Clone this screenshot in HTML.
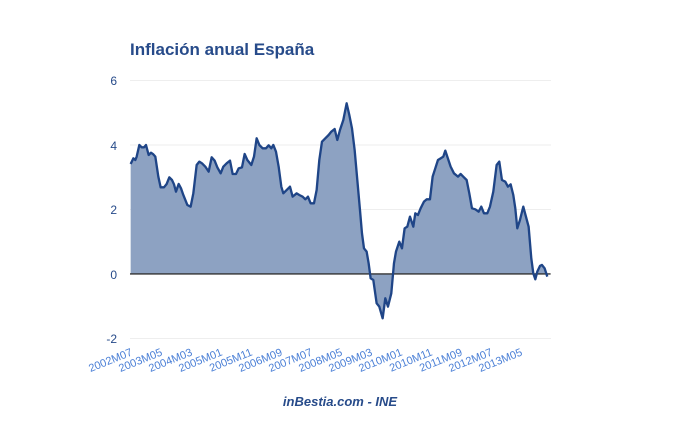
<!DOCTYPE html>
<html><head><meta charset="utf-8"><style>
body{margin:0;background:#fff;width:680px;height:420px;overflow:hidden;font-family:"Liberation Sans",sans-serif}
</style></head><body>
<svg width="680" height="420" xmlns="http://www.w3.org/2000/svg">
<text x="130" y="55" font-size="17" font-weight="bold" fill="#274b8a" font-family="Liberation Sans, sans-serif">Inflación anual España</text>
<g stroke="#eeeeee" stroke-width="1">
<line x1="130" y1="80.5" x2="551" y2="80.5"/>
<line x1="130" y1="145" x2="551" y2="145"/>
<line x1="130" y1="209.5" x2="551" y2="209.5"/>
<line x1="130" y1="338.5" x2="551" y2="338.5"/>
</g>
<g font-size="12" fill="#274b8a" text-anchor="end" font-family="Liberation Sans, sans-serif">
<text x="117" y="85">6</text><text x="117" y="150">4</text><text x="117" y="214">2</text><text x="117" y="279">0</text><text x="117" y="343">-2</text>
</g>
<g transform="translate(100,60) scale(0.3333)">
<polygon fill="#8da2c2" points="92,642 92,312 100,295 106,300 110,290 118,255 125,262 132,262 138,255 146,285 153,278 160,283 166,290 175,350 182,382 192,382 200,372 208,352 216,360 222,373 228,395 236,372 243,385 250,405 262,435 272,440 280,400 290,315 298,305 306,310 316,320 326,335 335,292 344,302 352,322 362,340 370,320 380,310 390,302 398,342 408,342 416,325 426,322 434,282 442,300 454,315 462,290 470,235 478,255 488,265 498,265 506,256 514,265 520,255 528,275 536,320 544,380 550,400 558,392 570,380 578,410 590,400 598,405 608,410 616,418 624,410 632,430 642,430 650,390 658,300 666,245 676,235 686,225 694,215 704,207 712,240 720,210 730,180 740,130 748,165 756,205 764,270 772,360 780,450 786,520 792,565 800,575 806,610 812,655 820,660 830,730 838,740 848,775 856,715 864,740 874,700 882,610 888,575 898,545 906,565 914,505 922,500 930,470 940,500 946,460 954,465 962,445 972,425 980,418 990,418 998,350 1006,325 1014,300 1022,295 1030,290 1036,272 1042,290 1052,320 1062,340 1074,350 1082,342 1090,350 1100,360 1108,400 1116,445 1126,448 1136,455 1144,440 1152,460 1162,460 1170,440 1180,395 1190,315 1198,305 1206,360 1216,365 1224,380 1232,373 1240,405 1246,445 1252,505 1260,480 1270,440 1278,470 1286,500 1294,595 1300,640 1306,658 1312,635 1320,618 1326,615 1334,625 1342,650 1342,642"/>
<line x1="90" y1="642" x2="1352" y2="642" stroke="#333" stroke-width="4"/>
<polyline fill="none" stroke="#1f4587" stroke-width="7" stroke-linejoin="round" points="92,312 100,295 106,300 110,290 118,255 125,262 132,262 138,255 146,285 153,278 160,283 166,290 175,350 182,382 192,382 200,372 208,352 216,360 222,373 228,395 236,372 243,385 250,405 262,435 272,440 280,400 290,315 298,305 306,310 316,320 326,335 335,292 344,302 352,322 362,340 370,320 380,310 390,302 398,342 408,342 416,325 426,322 434,282 442,300 454,315 462,290 470,235 478,255 488,265 498,265 506,256 514,265 520,255 528,275 536,320 544,380 550,400 558,392 570,380 578,410 590,400 598,405 608,410 616,418 624,410 632,430 642,430 650,390 658,300 666,245 676,235 686,225 694,215 704,207 712,240 720,210 730,180 740,130 748,165 756,205 764,270 772,360 780,450 786,520 792,565 800,575 806,610 812,655 820,660 830,730 838,740 848,775 856,715 864,740 874,700 882,610 888,575 898,545 906,565 914,505 922,500 930,470 940,500 946,460 954,465 962,445 972,425 980,418 990,418 998,350 1006,325 1014,300 1022,295 1030,290 1036,272 1042,290 1052,320 1062,340 1074,350 1082,342 1090,350 1100,360 1108,400 1116,445 1126,448 1136,455 1144,440 1152,460 1162,460 1170,440 1180,395 1190,315 1198,305 1206,360 1216,365 1224,380 1232,373 1240,405 1246,445 1252,505 1260,480 1270,440 1278,470 1286,500 1294,595 1300,640 1306,658 1312,635 1320,618 1326,615 1334,625 1342,650"/>
</g>
<g font-size="11" fill="#4a7fd6" text-anchor="end" font-family="Liberation Sans, sans-serif">
<text transform="translate(133,355) rotate(-22)">2002M07</text>
<text transform="translate(163,355) rotate(-22)">2003M05</text>
<text transform="translate(193,355) rotate(-22)">2004M03</text>
<text transform="translate(223,355) rotate(-22)">2005M01</text>
<text transform="translate(253,355) rotate(-22)">2005M11</text>
<text transform="translate(283,355) rotate(-22)">2006M09</text>
<text transform="translate(313,355) rotate(-22)">2007M07</text>
<text transform="translate(343,355) rotate(-22)">2008M05</text>
<text transform="translate(373,355) rotate(-22)">2009M03</text>
<text transform="translate(403,355) rotate(-22)">2010M01</text>
<text transform="translate(433,355) rotate(-22)">2010M11</text>
<text transform="translate(463,355) rotate(-22)">2011M09</text>
<text transform="translate(493,355) rotate(-22)">2012M07</text>
<text transform="translate(523,355) rotate(-22)">2013M05</text>
</g>
<text x="340" y="406" font-size="13" font-weight="bold" font-style="italic" fill="#274b8a" text-anchor="middle" font-family="Liberation Sans, sans-serif">inBestia.com - INE</text>
</svg>
</body></html>
